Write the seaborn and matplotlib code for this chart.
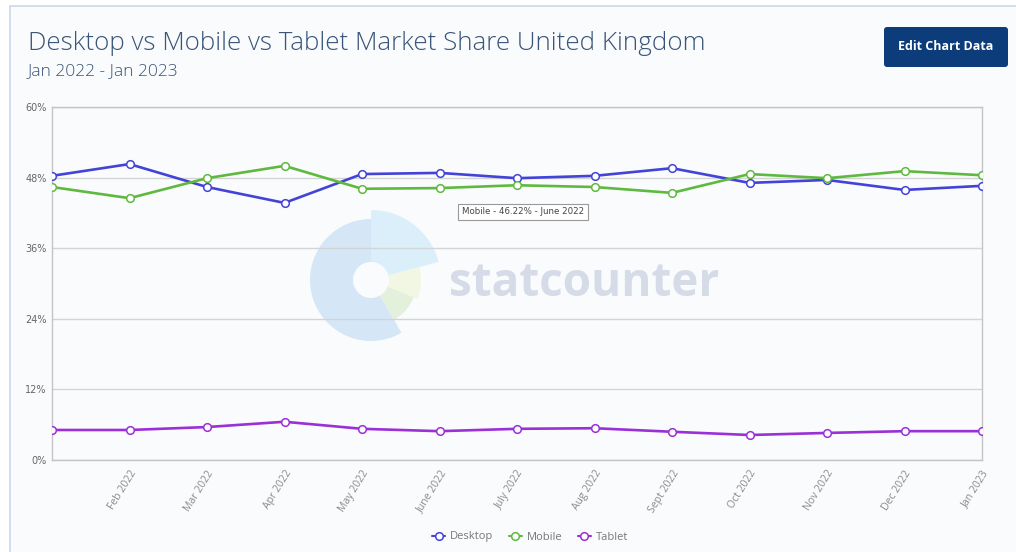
import matplotlib
matplotlib.use("Agg")
import matplotlib.pyplot as plt
from matplotlib.patches import Rectangle, Wedge, FancyBboxPatch
from matplotlib.lines import Line2D
import seaborn as sns
import pandas as pd

months = ["Jan 2022", "Feb 2022", "Mar 2022", "Apr 2022", "May 2022", "June 2022",
          "July 2022", "Aug 2022", "Sept 2022", "Oct 2022", "Nov 2022", "Dec 2022", "Jan 2023"]
desktop = [48.3, 50.3, 46.4, 43.7, 48.6, 48.8, 47.9, 48.3, 49.6, 47.1, 47.6, 45.9, 46.6]
mobile = [46.4, 44.5, 47.9, 50.0, 46.1, 46.22, 46.7, 46.4, 45.4, 48.6, 47.9, 49.1, 48.4]
tablet = [5.1, 5.1, 5.6, 6.5, 5.3, 4.9, 5.3, 5.4, 4.8, 4.25, 4.6, 4.9, 4.9]
series = ["Desktop", "Mobile", "Tablet"]
colors = ["#4343d8", "#5fb93f", "#9a30d6"]
yticks = [0, 12, 24, 36, 48, 60]
xtick_labels = [""] + months[1:]

df = pd.DataFrame({
    "idx": list(range(len(months))) * 3,
    "value": desktop + mobile + tablet,
    "device": [s for s in series for _ in months],
})

sns.set_theme(style="white")
plt.rcParams["font.family"] = ["Open Sans", "DejaVu Sans"]

W, H = 1016, 552
fig = plt.figure(figsize=(W / 100, H / 100), dpi=100, facecolor="white")


def py(y):
    return H - y


# background / decoration axes in pixel coordinates (y measured upward)
bg = fig.add_axes([0, 0, 1, 1], zorder=0)
bg.set_xlim(0, W)
bg.set_ylim(0, H)
bg.axis("off")
bg.add_patch(Rectangle((10, -20), W + 20, py(6) + 20, facecolor="#fafbfd",
                       edgecolor="#c9d9ea", lw=1.2))

# statcounter watermark
cx, cy = 371, py(280)
bg.add_patch(Wedge((cx, cy), 61, 90, 300, width=43, facecolor="#d5e7f6", edgecolor="none"))
bg.add_patch(Wedge((cx, cy), 70, 15, 90, width=52, facecolor="#dbeffa", edgecolor="none"))
bg.add_patch(Wedge((cx, cy), 50, -22, 15, width=32, facecolor="#f1f7e2", edgecolor="none"))
bg.add_patch(Wedge((cx, cy), 46, -60, -22, width=28, facecolor="#e3f0dc", edgecolor="none"))
bg.text(449, py(283), "statcounter", fontsize=33, fontweight="bold", color="#d6dce7",
        ha="left", va="center")

# title, subtitle
bg.text(28, py(43), "Desktop vs Mobile vs Tablet Market Share United Kingdom", fontsize=18.7,
        fontweight="light", color="#3a5578", ha="left", va="center")
bg.text(28, py(71), "Jan 2022 - Jan 2023", fontsize=12.5, fontweight="light",
        color="#3a5578", ha="left", va="center")

# button
bg.add_patch(FancyBboxPatch((884, py(67)), 124, 40, boxstyle="round,pad=0,rounding_size=3",
                            facecolor="#0c3c7a", edgecolor="none"))
bg.text(946, py(47), "Edit Chart Data", fontsize=9, fontweight="bold", color="white",
        ha="center", va="center")

# main chart
x0, x1, y0, y1 = 52, 982, 107, 460
ax = fig.add_axes([x0 / W, 1 - y1 / H, (x1 - x0) / W, (y1 - y0) / H], zorder=1)
ax.set_facecolor("none")

sns.lineplot(data=df, x="idx", y="value", hue="device", palette=colors, ax=ax,
             marker="o", markersize=5.5, linewidth=1.9, legend=False,
             markerfacecolor="white", zorder=3)
for ln in ax.lines:
    ln.set_markeredgecolor(ln.get_color())
    ln.set_markerfacecolor("white")
    ln.set_markeredgewidth(1.1)

ax.set_xlim(0, len(months) - 1)
ax.set_ylim(0, 60)
ax.set_yticks(yticks)
ax.set_yticklabels([f"{v}%" for v in yticks], fontsize=7, color="#666666",
                   family=["DejaVu Sans"])
ax.set_xticks(range(len(months)))
ax.set_xticklabels(xtick_labels, rotation=58, ha="right", rotation_mode="anchor",
                   fontsize=7.5, color="#8a8a8a")
ax.tick_params(axis="both", length=0, pad=4)
ax.tick_params(axis="x", pad=6)
ax.set_xlabel("")
ax.set_ylabel("")
ax.grid(axis="y", color="#d4d4d4", lw=1)
ax.grid(axis="x", visible=False)
for s in ax.spines.values():
    s.set_visible(True)
    s.set_color("#c4c4c4")
    s.set_linewidth(1)

# tooltip
fig.text(523 / W, 1 - 212 / H, "Mobile - 46.22% - June 2022", fontsize=6.2,
         color="#444444", family=["DejaVu Sans"], ha="center", va="center", zorder=5,
         bbox=dict(boxstyle="square,pad=0.45", facecolor="white", edgecolor="#999999", lw=0.8))

# legend
handles = [Line2D([0], [0], color=c, lw=1.5, marker="o", markersize=5.5,
                  markerfacecolor="white", markeredgecolor=c, markeredgewidth=1.1)
           for c in colors]
leg = fig.legend(handles, series, loc="center", bbox_to_anchor=(530 / W, 1 - 537 / H),
                 ncol=3, frameon=False, fontsize=8, handlelength=1.2, handletextpad=0.4,
                 columnspacing=1.4)
for t in leg.get_texts():
    t.set_color("#777777")

fig.savefig("out.png", dpi=100, facecolor=fig.get_facecolor())
